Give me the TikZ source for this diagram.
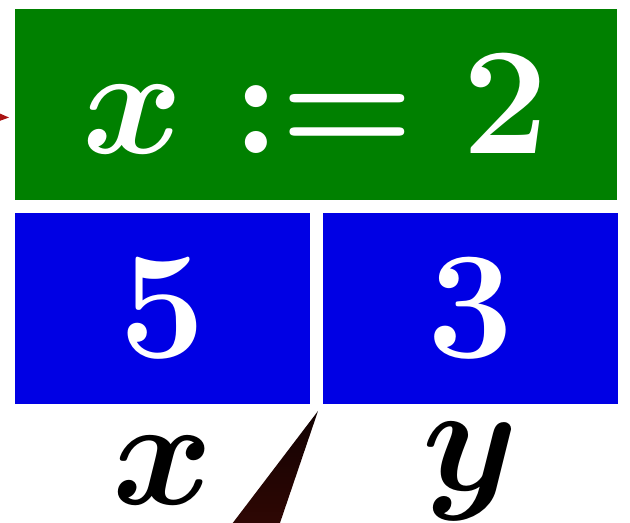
\documentclass[tikz,border=0pt]{standalone}
\usetikzlibrary{positioning}
\definecolor{boxgreen}{RGB}{0,128,0}
\definecolor{boxblue}{RGB}{0,0,228}
\definecolor{ptrred}{RGB}{170,20,20}
\definecolor{ptrtop}{RGB}{18,2,2}
\definecolor{ptrbot}{RGB}{52,8,4}
\newcommand{\enlarged}[1]{\scalebox{3.5}{\Huge\boldmath$#1$}}

\begin{document}
\begin{tikzpicture}[
  x=0.02cm, y=-0.02cm,
  assignbox/.style={fill=boxgreen, text=white, inner sep=0pt,
    minimum width=12.04cm, minimum height=3.82cm},
  cell/.style={fill=boxblue, text=white, inner sep=0pt,
    minimum width=5.9cm, minimum height=3.82cm},
  varname/.style={inner sep=0pt}
]
\clip (0,0) rectangle (630,523);

\node[assignbox] (assign) at (316,104.5) {\enlarged{x := 2}};
\node[cell, anchor=north west] (cellx) at ([yshift=-0.24cm]assign.south west) {\enlarged{5}};
\node[cell, right=0.24cm of cellx] (celly) {\enlarged{3}};
\node[varname] (labx) at ([yshift=-1.34cm]cellx.south) {\enlarged{x}};
\node[varname] (laby) at ([yshift=-1.34cm]celly.south) {\enlarged{y}};

% pointers
\coordinate (tipa) at (9,117.5);
\fill[ptrred] (tipa) -- (-6,111) -- (-6,123) -- cycle;
\coordinate (tipb) at (318,411);
\shade[top color=ptrtop, bottom color=ptrbot] (tipb) -- (272.5,545) -- (216,545) -- cycle;
\end{tikzpicture}
\end{document}
